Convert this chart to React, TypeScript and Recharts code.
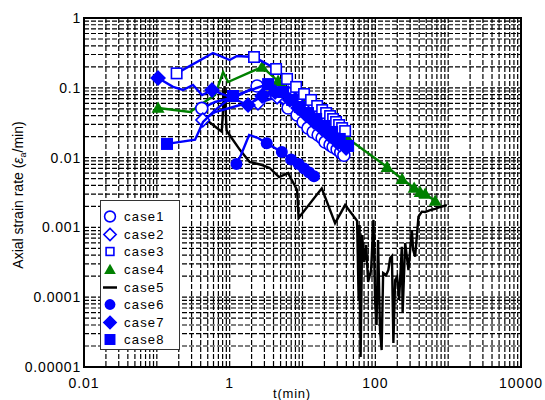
import React from 'react'
import { ScatterChart, Scatter, XAxis, YAxis, CartesianGrid, ReferenceArea, Legend } from 'recharts'

// axis ticks
const xDecades = [0.01, 0.1, 1, 10, 100, 1000]
const yDecades = [0.00001, 0.0001, 0.001, 0.01, 0.1]
const mantissas = [1, 2, 3, 4, 5, 6, 7, 8, 9]
const xLabels = ['0.01', '1', '100', '10000']
const yLabels = ['0.00001', '0.0001', '0.001', '0.01', '0.1', '1']

// [t (min), axial strain rate (1/min)]
const case1 = [[0.414, 0.0508], [0.63, 0.0626], [1.19, 0.0738], [2.38, 0.106], [3.82, 0.0763], [6.34, 0.0514], [8.43, 0.0408], [10.2, 0.0324], [11.9, 0.0265], [14.0, 0.0233], [16.4, 0.0211], [18.6, 0.0191], [20.4, 0.0167], [23.9, 0.0152], [26.3, 0.0142], [29.9, 0.0131], [33.5, 0.0119], [37.0, 0.0108]]
const case1Sym = [0, 3, 5, 6, 7, 8, 9, 10, 11, 12, 13, 14, 15, 16, 17]

const case2 = [[0.427, 0.0346], [0.63, 0.045], [1.39, 0.0567], [2.45, 0.0606], [4.48, 0.0738], [6.34, 0.0843], [8.17, 0.067], [10.2, 0.0514], [12.7, 0.0408], [15.4, 0.0334], [18.6, 0.0274], [22.5, 0.0225], [27.2, 0.0185], [32.5, 0.0152]]
const case2Sym = [0, 3, 4, 5, 6, 7, 8, 9, 10, 11, 12, 13]

const case3 = [[0.187, 0.161], [0.59, 0.315], [1.0, 0.25], [1.26, 0.285], [2.16, 0.276], [4.34, 0.186], [6.14, 0.134], [8.17, 0.103], [10.5, 0.0815], [13.1, 0.067], [15.9, 0.0549], [18.6, 0.048], [21.1, 0.0435], [23.9, 0.0394], [26.3, 0.0357], [28.9, 0.0324], [31.8, 0.0293], [35.0, 0.0265], [38.5, 0.024]]
const case3Sym = [0, 4, 5, 6, 7, 8, 9, 10, 11, 12, 13, 14, 15, 16, 17, 18]

const case4 = [[0.104, 0.0514], [0.286, 0.045], [0.431, 0.0606], [0.63, 0.0788], [0.812, 0.168], [0.95, 0.121], [2.79, 0.199], [4.62, 0.125], [10.9, 0.0626], [11.6, 0.0421], [41.0, 0.0191], [145, 0.00733], [233, 0.00493], [341, 0.00367], [412, 0.00321], [483, 0.00301], [663, 0.00239]]
const case4Sym = [0, 6, 7, 10, 11, 12, 13, 14, 15, 16]

const case5 = [[0.445, 0.0369], [0.778, 0.0235], [0.851, 0.106], [0.906, 0.0248], [0.959, 0.0223], [1.39, 0.0128], [1.88, 0.00865], [2.79, 0.00783], [3.54, 0.0071], [4.77, 0.00527], [6.34, 0.00601], [8.43, 0.00343], [8.84, 0.00136], [18.4, 0.00363], [28.0, 0.00115], [38.5, 0.00209], [56.2, 0.00124], [59.0, 0.0000912], [60.8, 0.00108], [62.8, 0.0000139], [65.9, 0.000778], [70.2, 0.000319], [74.8, 0.00056], [79.6, 0.000165], [87.5, 0.000245], [94.2, 0.00128], [99.3, 0.0000912], [104, 0.00004], [109, 0.00066], [116, 0.0000339], [122, 0.0000175], [128, 0.000222], [141, 0.000208], [151, 0.000245], [160, 0.000365], [169, 0.000389], [177, 0.0000221], [187, 0.000176], [199, 0.000197], [212, 0.0000912], [231, 0.000529], [237, 0.0000594], [257, 0.000598], [285, 0.000245], [317, 0.000918], [331, 0.000474], [352, 0.00038], [391, 0.00142], [435, 0.00168], [483, 0.00166], [566, 0.00177], [663, 0.00184], [776, 0.00196], [960, 0.00209]]
const case5Sym: number[] = []

const case6 = [[1.24, 0.0081], [1.43, 0.0109], [1.85, 0.0211], [2.45, 0.0191], [3.23, 0.016], [5.2, 0.012], [6.97, 0.0094], [8.84, 0.0081], [10.5, 0.007], [12.3, 0.0061], [14.4, 0.0054]]
const case6Sym = [0, 4, 5, 6, 7, 8, 9, 10]

const case7 = [[0.104, 0.138], [0.167, 0.103], [0.229, 0.093], [0.314, 0.11], [0.418, 0.0788], [0.573, 0.093], [0.865, 0.0788], [1.79, 0.0567], [2.79, 0.0763], [4.2, 0.087], [6.7, 0.067], [8.7, 0.0514], [11.2, 0.0408], [14.4, 0.0324], [18.6, 0.0257], [23.9, 0.0204], [30.8, 0.0167], [39.7, 0.0137]]
const case7Sym = [0, 5, 7, 8, 9, 10, 11, 12, 13, 14, 15, 16, 17]

const case8 = [[0.138, 0.0157], [0.335, 0.018], [0.431, 0.0324], [0.63, 0.048], [1.11, 0.0763], [3.37, 0.113], [5.42, 0.087], [7.2, 0.067], [9.2, 0.0531], [11.9, 0.0435], [15.4, 0.0357], [19.8, 0.0284], [25.5, 0.0233], [32.5, 0.0185], [42.3, 0.0147]]
const case8Sym = [0, 4, 5, 6, 7, 8, 9, 10, 11, 12, 13, 14]

const BLUE = '#0000ff'
const GREEN = '#008000'
const FONT = 'Arial, "Liberation Sans", sans-serif'

const series = [
  { name: 'case4', pts: case4, sym: case4Sym, kind: 'tri', color: GREEN },
  { name: 'case5', pts: case5, sym: case5Sym, kind: 'line', color: '#000' },
  { name: 'case1', pts: case1, sym: case1Sym, kind: 'circleOpen', color: BLUE },
  { name: 'case2', pts: case2, sym: case2Sym, kind: 'diamondOpen', color: BLUE },
  { name: 'case3', pts: case3, sym: case3Sym, kind: 'squareOpen', color: BLUE },
  { name: 'case6', pts: case6, sym: case6Sym, kind: 'circle', color: BLUE },
  { name: 'case7', pts: case7, sym: case7Sym, kind: 'diamond', color: BLUE },
  { name: 'case8', pts: case8, sym: case8Sym, kind: 'square', color: BLUE },
]
const legendOrder = ['case1', 'case2', 'case3', 'case4', 'case5', 'case6', 'case7', 'case8']

const xTicks = xDecades.flatMap((d) => mantissas.map((m) => d * m)).concat([10000])
const yTicks = yDecades.flatMap((d) => mantissas.map((m) => d * m)).concat([1])

const near = (a: number, b: number) => Math.abs(Math.log10(a) - Math.log10(b)) < 1e-6
const labelFor = (v: number, labels: string[]) => labels.find((l) => near(Number(l), v))

const Marker = ({ kind, cx, cy, color, s = 1 }: any) => {
  const w = 1.6
  if (kind === 'circleOpen') return <circle cx={cx} cy={cy} r={6 * s} fill="#fff" stroke={color} strokeWidth={w} />
  if (kind === 'circle') return <circle cx={cx} cy={cy} r={6 * s} fill={color} />
  if (kind === 'diamondOpen' || kind === 'diamond') {
    const r = 6.8 * s
    return <polygon points={`${cx},${cy - r} ${cx + r},${cy} ${cx},${cy + r} ${cx - r},${cy}`} fill={kind === 'diamond' ? color : '#fff'} stroke={color} strokeWidth={w} />
  }
  if (kind === 'squareOpen' || kind === 'square') {
    const r = 5.2 * s
    return <rect x={cx - r} y={cy - r} width={2 * r} height={2 * r} fill={kind === 'square' ? color : '#fff'} stroke={color} strokeWidth={w} />
  }
  if (kind === 'tri') {
    const r = 6.5 * s
    return <polygon points={`${cx},${cy - r} ${cx + r},${cy + r * 0.75} ${cx - r},${cy + r * 0.75}`} fill={color} />
  }
  if (kind === 'line') return <line x1={cx - 7} x2={cx + 7} y1={cy} y2={cy} stroke={color} strokeWidth={2.5} />
  return <g />
}

const renderLegend = () => (
  <div style={{ width: 80, height: 150, boxSizing: 'border-box', border: '1px solid #333', background: '#fff', paddingTop: 7 }}>
    {legendOrder.map((n) => {
      const s = series.find((x) => x.name === n)!
      return (
        <div key={n} style={{ height: 17.6, display: 'flex', alignItems: 'center' }}>
          <svg width={22} height={17} style={{ flex: 'none' }}>
            <Marker kind={s.kind} cx={9} cy={8.5} color={s.color} s={s.kind === 'squareOpen' ? 0.75 : 0.9} />
          </svg>
          <span style={{ fontFamily: FONT, fontSize: 13, letterSpacing: 1.2, color: '#000', marginLeft: 1 }}>{n}</span>
        </div>
      )
    })}
  </div>
)

const XTick = ({ x, payload }: any) => {
  const l = labelFor(payload.value, xLabels)
  if (!l) return <g />
  return <text x={x} y={388} textAnchor="middle" fontFamily={FONT} fontSize={14} letterSpacing={1} fill="#000">{l}</text>
}

const YTick = ({ y, payload }: any) => {
  const l = labelFor(payload.value, yLabels)
  if (!l) return <g />
  return <text x={81} y={y} dy="0.36em" textAnchor="end" fontFamily={FONT} fontSize={14} letterSpacing={0.8} fill="#000">{l}</text>
}

const YTitle = () => (
  <text transform="rotate(-90)" x={-195} y={23} textAnchor="middle" fontFamily={FONT} fontSize={14} fill="#000">
    Axial strain rate (<tspan fontStyle="italic">ε</tspan><tspan fontSize={9} dy={3}>a</tspan><tspan dy={-3}>/min)</tspan>
  </text>
)

const XTitle = () => (
  <text x={292} y={398} textAnchor="middle" fontFamily={FONT} fontSize={13} letterSpacing={0.8} fill="#000">t(min)</text>
)

const App = () => {
  return (
    <div style={{ position: 'absolute', left: 0, top: 0, background: '#fff' }}>
      <ScatterChart width={545} height={400} margin={{ top: 18, right: 24, bottom: 0, left: 0 }}>
        <CartesianGrid stroke="#000" strokeDasharray="5 2" strokeWidth={1.2} />
        <XAxis type="number" dataKey="t" scale="log" domain={[0.01, 10000]} allowDataOverflow ticks={xTicks} interval={0}
          height={33} tickLine={false} axisLine={{ stroke: '#000', strokeWidth: 2 }} tick={<XTick />} label={<XTitle />} />
        <YAxis type="number" dataKey="r" scale="log" domain={[0.00001, 1]} allowDataOverflow ticks={yTicks} interval={0}
          width={84} tickLine={false} axisLine={{ stroke: '#000', strokeWidth: 2 }} tick={<YTick />} label={<YTitle />} />
        <ReferenceArea x1={0.01} x2={10000} y1={0.00001} y2={1} fill="none" stroke="#000" strokeWidth={2} />
        {series.map((s) => (
          <Scatter key={s.name} name={s.name} isAnimationActive={false}
            data={s.pts.map(([t, r], i) => ({ t, r, sym: s.sym.includes(i) }))}
            line={{ stroke: s.color, strokeWidth: 2.4 }} lineType="joint" fill={s.color}
            shape={(p: any) => (p.payload.sym ? <Marker kind={s.kind} cx={p.cx} cy={p.cy} color={s.color} /> : <g />)} />
        ))}
        <Legend layout="vertical" align="center" verticalAlign="middle" content={renderLegend}
          wrapperStyle={{ left: 100, top: 200, width: 80, height: 150 }} />
      </ScatterChart>
    </div>
  )
}

export default App
